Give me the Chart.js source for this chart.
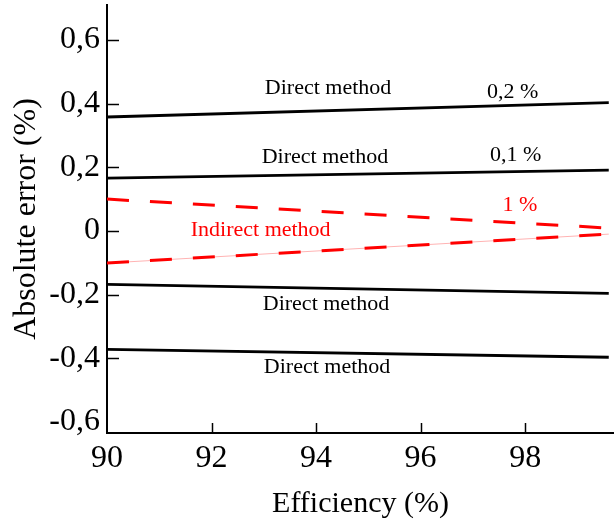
<!DOCTYPE html>
<html>
<head>
<meta charset="utf-8">
<script src="https://cdn.jsdelivr.net/npm/chart.js@4/dist/chart.umd.min.js"></script>
<style>
  html, body { margin: 0; padding: 0; background: #fff; }
  canvas { display: block; }
</style>
</head>
<body>
<canvas id="errorChart" width="614" height="522"></canvas>
<script>
// Data
const efficiency = [90, 99.6];
const direct02Upper = [0.358, 0.403];
const direct01Upper = [0.166, 0.191];
const indirectUpper = [0.100, 0.009];
const indirectLower = [-0.101, -0.010];
const direct01Lower = [-0.168, -0.196];
const direct02Lower = [-0.372, -0.397];

const xTicks = [90, 92, 94, 96, 98];
const yTicks = [-0.6, -0.4, -0.2, 0, 0.2, 0.4, 0.6];

const serif = "'Liberation Serif', 'DejaVu Serif', serif";

function pts(ys) {
    return efficiency.map((x, i) => ({ x: x, y: ys[i] }));
}

// Text labels inside the plot, placed in data units
const notes = [
    { text: 'Direct method', x: 94.23, y: 0.449, color: '#000' },
    { text: '0,2 %', x: 97.76, y: 0.437, color: '#000' },
    { text: 'Direct method', x: 94.17, y: 0.232, color: '#000' },
    { text: '0,1 %', x: 97.82, y: 0.238, color: '#000' },
    { text: '1 %', x: 97.9, y: 0.081, color: '#ff0000' },
    { text: 'Indirect method', x: 92.94, y: 0.003, color: '#ff0000' },
    { text: 'Direct method', x: 94.19, y: -0.230, color: '#000' },
    { text: 'Direct method', x: 94.21, y: -0.428, color: '#000' }
];

// Draw inward tick marks and the text notes
const extrasPlugin = {
    id: 'extras',
    afterDraw(chart) {
        const c = chart.ctx;
        const area = chart.chartArea;
        const xs = chart.scales.x;
        const ys = chart.scales.y;
        c.save();
        c.strokeStyle = '#000';
        c.lineWidth = 1.5;
        yTicks.forEach(v => {
            if (v === yTicks[0]) return;
            const py = Math.round(ys.getPixelForValue(v)) + 0.5;
            c.beginPath();
            c.moveTo(area.left, py);
            c.lineTo(area.left + 12, py);
            c.stroke();
        });
        xTicks.forEach(v => {
            if (v === xTicks[0]) return;
            const px = Math.round(xs.getPixelForValue(v)) + 0.5;
            c.beginPath();
            c.moveTo(px, area.bottom);
            c.lineTo(px, area.bottom - 10);
            c.stroke();
        });
        c.font = '22px ' + serif;
        c.textAlign = 'center';
        c.textBaseline = 'middle';
        notes.forEach(n => {
            c.fillStyle = n.color;
            c.fillText(n.text, xs.getPixelForValue(n.x), ys.getPixelForValue(n.y));
        });
        c.restore();
    }
};

const blackLine = (label, ys) => ({
    label: label,
    data: pts(ys),
    borderColor: '#000',
    borderWidth: 2.8,
    pointRadius: 0,
    fill: false
});

const redDash = (label, ys) => ({
    label: label,
    data: pts(ys),
    borderColor: '#ff0000',
    borderWidth: 3,
    borderDash: [22, 21],
    pointRadius: 0,
    fill: false
});

const ctx = document.getElementById('errorChart').getContext('2d');
const errorChart = new Chart(ctx, {
    type: 'line',
    data: {
        datasets: [
            blackLine('Direct 0,2 % upper', direct02Upper),
            blackLine('Direct 0,1 % upper', direct01Upper),
            redDash('Indirect upper', indirectUpper),
            {
                label: 'Indirect lower thin',
                data: pts(indirectLower),
                borderColor: 'rgba(255, 0, 0, 0.3)',
                borderWidth: 1,
                pointRadius: 0,
                fill: false
            },
            redDash('Indirect lower', indirectLower),
            blackLine('Direct 0,1 % lower', direct01Lower),
            blackLine('Direct 0,2 % lower', direct02Lower)
        ]
    },
    options: {
        responsive: false,
        animation: false,
        layout: { padding: { top: 5, right: 0, left: 0, bottom: 0 } },
        plugins: {
            legend: { display: false },
            tooltip: { enabled: false }
        },
        scales: {
            x: {
                type: 'linear',
                min: 90,
                max: 99.7,
                afterBuildTicks: s => { s.ticks = xTicks.map(v => ({ value: v })); },
                afterFit: s => { s.height = 89; s.paddingLeft = 0; s.paddingRight = 0; },
                grid: { display: false, drawTicks: false },
                border: { display: true, color: '#000', width: 2 },
                ticks: {
                    color: '#000',
                    padding: 6,
                    maxRotation: 0,
                    font: { family: serif, size: 32 }
                },
                title: {
                    display: true,
                    text: 'Efficiency (%)',
                    color: '#000',
                    padding: { top: 2, bottom: 0 },
                    font: { family: serif, size: 30 }
                }
            },
            y: {
                min: -0.635,
                max: 0.71,
                afterBuildTicks: s => { s.ticks = yTicks.map(v => ({ value: v })); },
                afterFit: s => { s.width = 107; s.paddingTop = 0; s.paddingBottom = 0; },
                grid: { display: false, drawTicks: false },
                border: { display: true, color: '#000', width: 2 },
                ticks: {
                    color: '#000',
                    padding: 7,
                    font: { family: serif, size: 32 },
                    callback: v => v === 0 ? '0' : v.toFixed(1).replace('.', ',')
                },
                title: {
                    display: true,
                    text: 'Absolute error (%)',
                    color: '#000',
                    padding: { top: 7, bottom: 0 },
                    font: { family: serif, size: 32 }
                }
            }
        }
    },
    plugins: [extrasPlugin]
});
</script>
</body>
</html>
